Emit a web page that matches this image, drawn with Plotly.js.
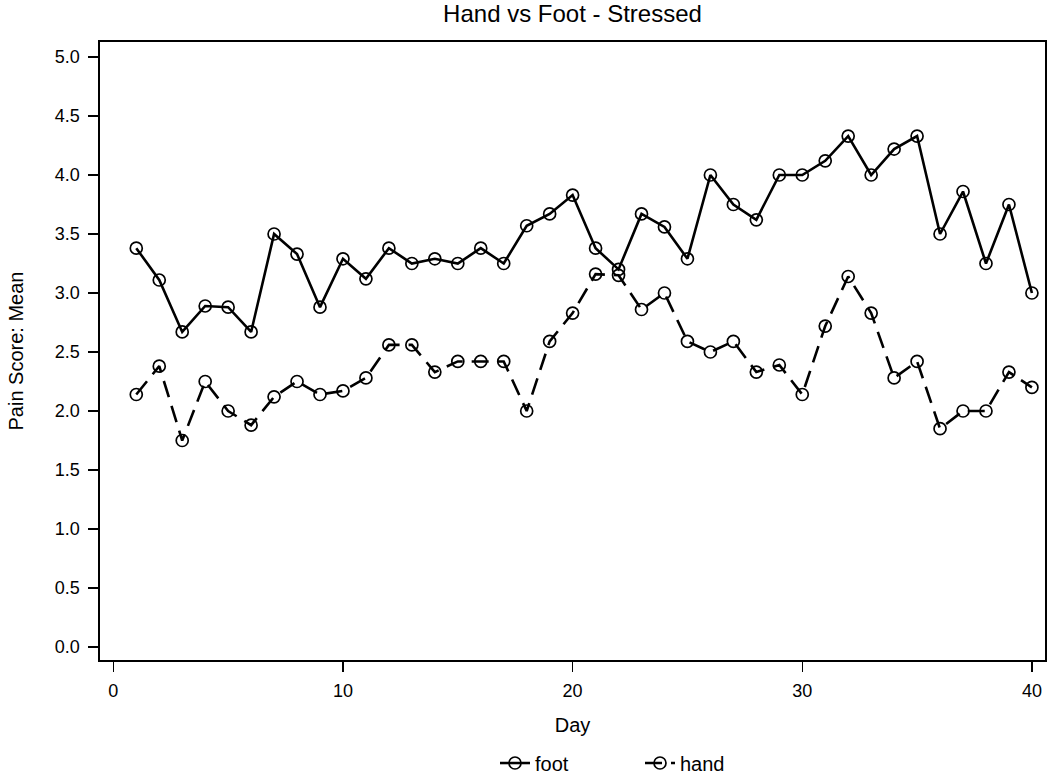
<!DOCTYPE html>
<html>
<head>
<meta charset="utf-8">
<script src="https://cdn.plot.ly/plotly-3.0.1.min.js"></script>
<style>html,body{margin:0;padding:0;background:#fff;}#chart{width:1050px;height:781px;}</style>
</head>
<body>
<div id="chart"></div>
<script>
const days = Array.from({length: 40}, (_, i) => i + 1);
const footMean = [3.38, 3.11, 2.67, 2.89, 2.88, 2.67, 3.50, 3.33, 2.88, 3.29,
                  3.12, 3.38, 3.25, 3.29, 3.25, 3.38, 3.25, 3.57, 3.67, 3.83,
                  3.38, 3.20, 3.67, 3.56, 3.29, 4.00, 3.75, 3.62, 4.00, 4.00,
                  4.12, 4.33, 4.00, 4.22, 4.33, 3.50, 3.86, 3.25, 3.75, 3.00];
const handMean = [2.14, 2.38, 1.75, 2.25, 2.00, 1.88, 2.12, 2.25, 2.14, 2.17,
                  2.28, 2.56, 2.56, 2.33, 2.42, 2.42, 2.42, 2.00, 2.59, 2.83,
                  3.16, 3.15, 2.86, 3.00, 2.59, 2.50, 2.59, 2.33, 2.39, 2.14,
                  2.72, 3.14, 2.83, 2.28, 2.42, 1.85, 2.00, 2.00, 2.33, 2.20];
const seriesNames = ['foot', 'hand'];
const yTicks = [0, 0.5, 1, 1.5, 2, 2.5, 3, 3.5, 4, 4.5, 5];
const xTicks = [0, 10, 20, 30, 40];

const font = 'Liberation Sans, Arial, sans-serif';
const marker = {symbol: 'circle-open', size: 12, color: '#000', line: {width: 1.7, color: '#000'}};

const traces = [
  {x: days, y: footMean, name: seriesNames[0], mode: 'lines+markers',
   line: {color: '#000', width: 2.6, dash: 'solid'}, marker: marker},
  {x: days, y: handMean, name: seriesNames[1], mode: 'lines+markers',
   line: {color: '#000', width: 2.6, dash: '17px,9px'}, marker: marker}
];

const layout = {
  width: 1050, height: 781,
  margin: {l: 100, r: 5, t: 42, b: 121},
  paper_bgcolor: '#fff', plot_bgcolor: '#fff',
  font: {family: font, color: '#000', size: 18},
  title: {text: 'Hand vs Foot - Stressed', x: 0.5, xref: 'paper', xanchor: 'center',
          y: 1, yref: 'container', yanchor: 'top', pad: {t: 5},
          font: {family: font, size: 24, color: '#000'}},
  xaxis: {range: [-0.58, 40.57], tickvals: xTicks, ticktext: xTicks.map(String),
          automargin: false,
          ticks: 'outside', ticklen: 10, tickwidth: 1.5, tickcolor: '#000',
          ticklabelstandoff: 4,
          showline: true, linecolor: '#000', linewidth: 1.6, mirror: true,
          showgrid: false, zeroline: false,
          tickfont: {family: font, size: 18, color: '#000'},
          title: {text: 'Day', standoff: 18, font: {family: font, size: 20, color: '#000'}}},
  yaxis: {range: [-0.11, 5.127], tickvals: yTicks, ticktext: yTicks.map(v => v.toFixed(1)),
          automargin: false,
          ticks: 'outside', ticklen: 10, tickwidth: 1.5, tickcolor: '#000',
          ticklabelstandoff: 5,
          showline: true, linecolor: '#000', linewidth: 1.6, mirror: true,
          showgrid: false, zeroline: false,
          tickfont: {family: font, size: 18, color: '#000'},
          title: {text: 'Pain Score: Mean', standoff: 26, font: {family: font, size: 20, color: '#000'}}},
  legend: {orientation: 'h', xref: 'container', yref: 'container',
           x: 495 / 1050, xanchor: 'left', y: 18 / 781, yanchor: 'middle',
           entrywidth: 100, entrywidthmode: 'pixels',
           font: {family: font, size: 20, color: '#000'}, bgcolor: 'rgba(0,0,0,0)'},
  showlegend: true
};

Plotly.newPlot('chart', traces, layout, {displayModeBar: false, staticPlot: true});
</script>
</body>
</html>
